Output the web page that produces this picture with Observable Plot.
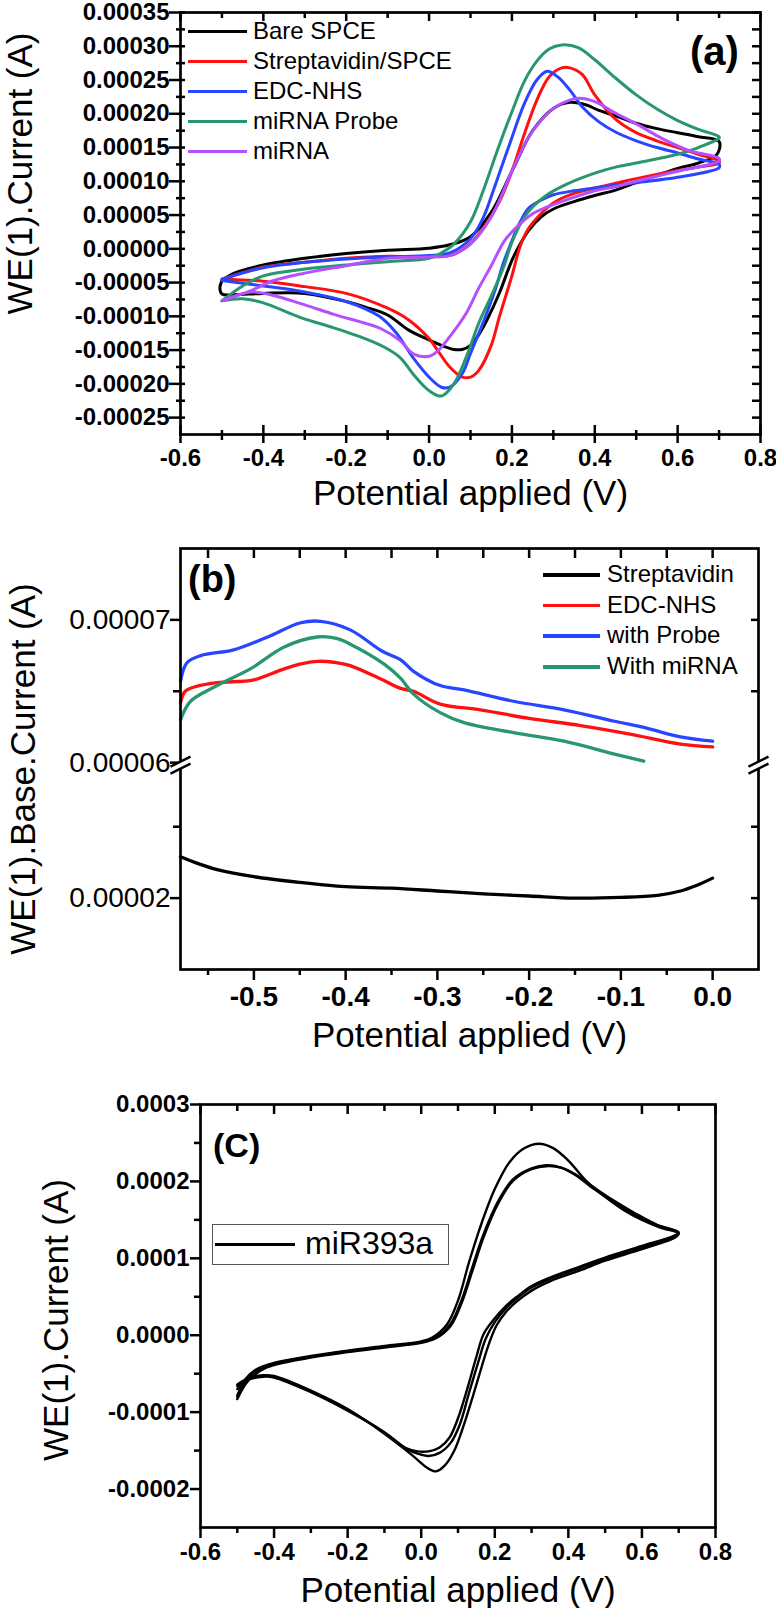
<!DOCTYPE html>
<html><head><meta charset="utf-8">
<script src="https://cdn.jsdelivr.net/npm/d3@7"></script>
<script src="https://cdn.jsdelivr.net/npm/@observablehq/plot@0.6"></script>
<style>
body{margin:0;background:#fff;font-family:"Liberation Sans",Arial,sans-serif;}
#wrap{position:relative;width:776px;height:1608px;overflow:hidden;background:#fff;}
.panel{position:absolute;left:0;}
.ov{position:absolute;color:#000;font-family:"Liberation Sans",Arial,sans-serif;white-space:nowrap;}
</style></head><body><div id="wrap"></div>
<script>
// ---------------- Panel (a) data: [potential V, current A] ----------------
const aSeries = ["Bare SPCE","Streptavidin/SPCE","EDC-NHS","miRNA Probe","miRNA"];
const aColors = ["#000000","#ff1010","#2846ff","#28966e","#b450ff"];
const aBare = [[-0.5,-4.7e-5],[-0.47,-3.6e-5],[-0.4,-2.4e-5],[-0.3,-1.4e-5],[-0.2,-0.7e-5],[-0.1,-0.2e-5],[0,0.1e-5],[0.05,0.6e-5],[0.1,1.8e-5],[0.15,5.4e-5],[0.2,11.5e-5],[0.25,17.5e-5],[0.3,20.8e-5],[0.34,21.7e-5],[0.38,21.3e-5],[0.41,20.5e-5],[0.45,19.7e-5],[0.5,18.6e-5],[0.55,17.8e-5],[0.6,17.2e-5],[0.65,16.6e-5],[0.7,15.9e-5],
 [0.695,14.0e-5],[0.65,12.7e-5],[0.6,11.9e-5],[0.5,9.8e-5],[0.45,8.7e-5],[0.4,7.9e-5],[0.35,7.0e-5],[0.3,5.9e-5],[0.27,4.7e-5],[0.24,2.7e-5],[0.22,0.7e-5],[0.2,-1.7e-5],[0.17,-6.5e-5],[0.14,-10.5e-5],[0.12,-12.7e-5],[0.1,-14.3e-5],[0.08,-14.9e-5],[0.06,-14.9e-5],[0.03,-14.3e-5],[0,-13.5e-5],[-0.05,-12.0e-5],[-0.1,-9.8e-5],[-0.15,-8.7e-5],[-0.2,-7.8e-5],[-0.3,-6.6e-5],[-0.4,-6.6e-5],[-0.47,-6.8e-5],[-0.5,-6.7e-5],[-0.505,-5.8e-5],[-0.5,-4.7e-5]];
const aStrep = [[-0.5,-4.5e-5],[-0.4,-2.7e-5],[-0.3,-2.0e-5],[-0.2,-1.4e-5],[-0.1,-1.1e-5],[0,-1.2e-5],[0.06,-0.8e-5],[0.1,0.8e-5],[0.13,3.0e-5],[0.17,7.0e-5],[0.2,11.5e-5],[0.23,17.0e-5],[0.26,22.0e-5],[0.29,25.5e-5],[0.32,26.8e-5],[0.34,26.8e-5],[0.37,25.8e-5],[0.4,22.8e-5],[0.45,19.2e-5],[0.5,17.2e-5],[0.55,16.0e-5],[0.6,15.0e-5],[0.65,14.0e-5],[0.7,13.0e-5],
 [0.7,12.7e-5],[0.65,12.1e-5],[0.6,11.6e-5],[0.5,10.4e-5],[0.45,9.7e-5],[0.4,9.0e-5],[0.35,8.2e-5],[0.3,6.8e-5],[0.27,5.2e-5],[0.24,3.0e-5],[0.22,0.4e-5],[0.2,-4.0e-5],[0.17,-10.0e-5],[0.15,-14.3e-5],[0.12,-18.0e-5],[0.1,-19.0e-5],[0.08,-19.0e-5],[0.05,-17.5e-5],[0.02,-15.0e-5],[0,-13.3e-5],[-0.05,-10.5e-5],[-0.1,-8.8e-5],[-0.2,-6.6e-5],[-0.3,-5.6e-5],[-0.4,-4.8e-5],[-0.5,-4.5e-5]];
const aEdc = [[-0.5,-4.5e-5],[-0.4,-2.8e-5],[-0.3,-2.0e-5],[-0.2,-1.5e-5],[-0.1,-1.2e-5],[0,-1.0e-5],[0.05,-0.6e-5],[0.1,1.5e-5],[0.13,4.5e-5],[0.16,9.5e-5],[0.2,16.5e-5],[0.23,21.5e-5],[0.26,25.0e-5],[0.285,26.3e-5],[0.31,25.5e-5],[0.34,23.5e-5],[0.37,21.0e-5],[0.41,18.8e-5],[0.45,17.3e-5],[0.5,16.0e-5],[0.55,15.0e-5],[0.6,14.2e-5],[0.65,13.3e-5],[0.7,12.5e-5],
 [0.7,12.0e-5],[0.6,10.6e-5],[0.5,9.8e-5],[0.45,9.4e-5],[0.35,8.6e-5],[0.3,8.0e-5],[0.27,7.2e-5],[0.24,6.0e-5],[0.22,4.0e-5],[0.2,1.2e-5],[0.18,-2.0e-5],[0.16,-6.0e-5],[0.13,-11.0e-5],[0.1,-15.5e-5],[0.08,-18.5e-5],[0.05,-20.5e-5],[0.03,-20.5e-5],[0,-19.0e-5],[-0.04,-16.0e-5],[-0.08,-12.4e-5],[-0.12,-10.0e-5],[-0.2,-7.8e-5],[-0.3,-6.4e-5],[-0.4,-5.5e-5],[-0.5,-4.7e-5]];
const aProbe = [[-0.5,-7.7e-5],[-0.45,-5.5e-5],[-0.4,-4.0e-5],[-0.3,-3.0e-5],[-0.2,-2.4e-5],[-0.1,-1.9e-5],[0,-1.4e-5],[0.03,-0.6e-5],[0.06,0.7e-5],[0.1,4.0e-5],[0.13,8.5e-5],[0.165,14.6e-5],[0.2,20.3e-5],[0.23,24.8e-5],[0.26,27.8e-5],[0.29,29.6e-5],[0.32,30.2e-5],[0.36,29.8e-5],[0.4,28.0e-5],[0.45,25.3e-5],[0.5,22.8e-5],[0.55,20.7e-5],[0.6,19.0e-5],[0.65,17.7e-5],[0.7,16.6e-5],
 [0.7,16.4e-5],[0.65,15.0e-5],[0.6,14.0e-5],[0.5,12.7e-5],[0.45,12.1e-5],[0.4,11.2e-5],[0.33,9.5e-5],[0.28,7.8e-5],[0.25,6.2e-5],[0.23,4.7e-5],[0.2,1.0e-5],[0.18,-2.7e-5],[0.15,-7.0e-5],[0.12,-11.0e-5],[0.09,-16.0e-5],[0.06,-20.0e-5],[0.03,-21.8e-5],[0,-21.0e-5],[-0.035,-18.8e-5],[-0.07,-16.1e-5],[-0.11,-14.5e-5],[-0.15,-13.4e-5],[-0.23,-11.7e-5],[-0.31,-10.2e-5],[-0.4,-8.0e-5],[-0.45,-7.4e-5],[-0.5,-7.7e-5]];
const aMirna = [[-0.5,-7.7e-5],[-0.43,-6.2e-5],[-0.38,-4.8e-5],[-0.3,-3.6e-5],[-0.2,-2.5e-5],[-0.1,-1.4e-5],[0,-1.2e-5],[0.05,-1.0e-5],[0.1,0.7e-5],[0.15,4.7e-5],[0.2,11.5e-5],[0.24,16.5e-5],[0.27,19.0e-5],[0.3,20.8e-5],[0.33,21.8e-5],[0.36,22.3e-5],[0.4,21.8e-5],[0.45,20.1e-5],[0.5,18.5e-5],[0.57,16.1e-5],[0.63,14.5e-5],[0.7,13.4e-5],
 [0.7,13.0e-5],[0.6,11.5e-5],[0.5,10.0e-5],[0.45,9.2e-5],[0.4,8.6e-5],[0.33,7.2e-5],[0.25,5.2e-5],[0.2,2.5e-5],[0.18,1.0e-5],[0.15,-2.5e-5],[0.12,-5.8e-5],[0.09,-9.5e-5],[0.05,-13.0e-5],[0.02,-15.2e-5],[0,-15.9e-5],[-0.037,-15.6e-5],[-0.07,-13.6e-5],[-0.117,-11.8e-5],[-0.23,-9.7e-5],[-0.3,-8.3e-5],[-0.39,-6.7e-5],[-0.43,-6.4e-5],[-0.5,-7.7e-5]];
const aXMajor = [-0.6,-0.4,-0.2,0.0,0.2,0.4,0.6,0.8];
const aXMinor = [-0.5,-0.3,-0.1,0.1,0.3,0.5,0.7];
const aYMajor = [-0.00025,-0.0002,-0.00015,-0.0001,-0.00005,0,0.00005,0.0001,0.00015,0.0002,0.00025,0.0003,0.00035];
const aYMinor = [-0.000225,-0.000175,-0.000125,-0.000075,-0.000025,0.000025,0.000075,0.000125,0.000175,0.000225,0.000275,0.000325];

// ---------------- Panel (b) data ----------------
const bSeries = ["Streptavidin","EDC-NHS","with Probe","With miRNA"];
const bColors = ["#000000","#ff1010","#2846ff","#28966e"];
const bStrept = [[-0.58,2.29e-5],[-0.56,2.24e-5],[-0.54,2.20e-5],[-0.5,2.15e-5],[-0.45,2.11e-5],[-0.4,2.08e-5],[-0.35,2.07e-5],[-0.3,2.05e-5],[-0.25,2.03e-5],[-0.2,2.015e-5],[-0.15,2.0e-5],[-0.1,2.005e-5],[-0.06,2.02e-5],[-0.035,2.05e-5],[-0.017,2.09e-5],[0,2.14e-5]];
const bEdc = [[-0.58,6.42e-5],[-0.575,6.50e-5],[-0.565,6.53e-5],[-0.54,6.56e-5],[-0.5,6.58e-5],[-0.47,6.65e-5],[-0.45,6.69e-5],[-0.43,6.71e-5],[-0.41,6.70e-5],[-0.395,6.68e-5],[-0.36,6.58e-5],[-0.34,6.52e-5],[-0.326,6.50e-5],[-0.297,6.41e-5],[-0.253,6.37e-5],[-0.2,6.31e-5],[-0.144,6.26e-5],[-0.09,6.20e-5],[-0.035,6.13e-5],[0,6.11e-5]];
const bProbe = [[-0.58,6.57e-5],[-0.573,6.70e-5],[-0.558,6.75e-5],[-0.522,6.79e-5],[-0.485,6.88e-5],[-0.449,6.98e-5],[-0.427,6.99e-5],[-0.395,6.93e-5],[-0.36,6.78e-5],[-0.34,6.72e-5],[-0.326,6.64e-5],[-0.297,6.54e-5],[-0.271,6.51e-5],[-0.217,6.43e-5],[-0.162,6.37e-5],[-0.107,6.29e-5],[-0.071,6.24e-5],[-0.035,6.18e-5],[0,6.15e-5]];
const bMirna = [[-0.58,6.30e-5],[-0.569,6.43e-5],[-0.54,6.54e-5],[-0.503,6.66e-5],[-0.467,6.81e-5],[-0.431,6.88e-5],[-0.41,6.87e-5],[-0.395,6.83e-5],[-0.358,6.69e-5],[-0.34,6.59e-5],[-0.326,6.48e-5],[-0.297,6.35e-5],[-0.271,6.28e-5],[-0.217,6.21e-5],[-0.162,6.15e-5],[-0.107,6.06e-5],[-0.075,6.01e-5]];
const bXMajor = [-0.5,-0.4,-0.3,-0.2,-0.1,0.0];
const bXMinor = [-0.55,-0.45,-0.35,-0.25,-0.15,-0.05];
const bYLabels = [0.00002,0.00006,0.00007];
const bYMinor = [0.000025,0.000065];
const bBreak = [0.00003,0.00006];   // axis is broken between these two currents

// ---------------- Panel (c) data ----------------
const cName = "miR393a";
const cCycle1 = [[-0.5,-8.0e-5],[-0.48,-5.8e-5],[-0.45,-4.5e-5],[-0.4,-3.6e-5],[-0.3,-2.7e-5],[-0.2,-2.0e-5],[-0.1,-1.4e-5],[0,-0.8e-5],[0.03,-0.3e-5],[0.07,1.4e-5],[0.1,4.5e-5],[0.13,9.5e-5],[0.16,14.0e-5],[0.2,19.0e-5],[0.24,22.5e-5],[0.28,24.3e-5],[0.32,24.9e-5],[0.36,24.3e-5],[0.4,22.7e-5],[0.45,20.0e-5],[0.5,18.0e-5],[0.55,16.3e-5],[0.6,15.0e-5],[0.65,14.0e-5],[0.7,13.2e-5],
 [0.69,12.7e-5],[0.6,11.2e-5],[0.5,9.7e-5],[0.43,8.4e-5],[0.35,7.0e-5],[0.3,5.8e-5],[0.26,4.4e-5],[0.23,3.0e-5],[0.205,1.3e-5],[0.185,-1.0e-5],[0.165,-4.0e-5],[0.14,-8.0e-5],[0.115,-11.8e-5],[0.09,-15.0e-5],[0.065,-16.9e-5],[0.04,-17.7e-5],[0.015,-17.2e-5],[-0.01,-16.2e-5],[-0.04,-15.0e-5],[-0.1,-12.8e-5],[-0.2,-9.6e-5],[-0.3,-7.2e-5],[-0.4,-5.3e-5],[-0.43,-5.2e-5],[-0.47,-5.6e-5],[-0.5,-6.4e-5]];
const cCycle2 = [[-0.5,-7.8e-5],[-0.47,-5.5e-5],[-0.42,-4.0e-5],[-0.3,-2.8e-5],[-0.2,-2.1e-5],[-0.1,-1.5e-5],[0,-0.9e-5],[0.04,-0.3e-5],[0.08,1.5e-5],[0.11,4.6e-5],[0.14,9.0e-5],[0.17,13.2e-5],[0.21,17.5e-5],[0.25,20.3e-5],[0.3,21.7e-5],[0.34,22.1e-5],[0.38,21.8e-5],[0.42,20.8e-5],[0.47,19.0e-5],[0.52,17.4e-5],[0.58,15.7e-5],[0.64,14.3e-5],[0.7,13.3e-5],
 [0.69,12.9e-5],[0.6,11.4e-5],[0.5,9.9e-5],[0.43,8.7e-5],[0.35,7.3e-5],[0.3,6.2e-5],[0.26,4.8e-5],[0.23,3.5e-5],[0.2,1.7e-5],[0.175,-0.5e-5],[0.155,-3.5e-5],[0.13,-7.5e-5],[0.105,-11.6e-5],[0.08,-14.0e-5],[0.05,-15.3e-5],[0.02,-15.7e-5],[-0.01,-15.4e-5],[-0.04,-14.8e-5],[-0.1,-12.7e-5],[-0.2,-9.7e-5],[-0.3,-7.3e-5],[-0.4,-5.4e-5],[-0.43,-5.3e-5],[-0.47,-5.7e-5],[-0.5,-6.6e-5]];
const cCycle3 = [[-0.5,-8.3e-5],[-0.47,-5.9e-5],[-0.42,-4.2e-5],[-0.3,-2.9e-5],[-0.2,-2.2e-5],[-0.1,-1.6e-5],[0,-1.0e-5],[0.04,-0.4e-5],[0.08,1.2e-5],[0.11,4.2e-5],[0.14,8.5e-5],[0.17,12.8e-5],[0.21,17.2e-5],[0.25,20.1e-5],[0.3,21.6e-5],[0.345,22.0e-5],[0.38,21.8e-5],[0.42,20.9e-5],[0.47,19.2e-5],[0.52,17.6e-5],[0.58,15.9e-5],[0.64,14.4e-5],[0.7,13.4e-5],
 [0.69,13.0e-5],[0.6,11.6e-5],[0.5,10.1e-5],[0.43,8.9e-5],[0.35,7.5e-5],[0.3,6.4e-5],[0.26,5.0e-5],[0.23,3.8e-5],[0.2,2.2e-5],[0.17,0.2e-5],[0.15,-2.8e-5],[0.125,-7.0e-5],[0.1,-10.8e-5],[0.077,-13.3e-5],[0.05,-14.6e-5],[0.02,-15.1e-5],[-0.01,-15.1e-5],[-0.04,-14.7e-5],[-0.1,-12.6e-5],[-0.2,-9.8e-5],[-0.3,-7.4e-5],[-0.4,-5.5e-5],[-0.43,-5.4e-5],[-0.47,-5.8e-5],[-0.5,-7.0e-5]];
const cXMajor = [-0.6,-0.4,-0.2,0.0,0.2,0.4,0.6,0.8];
const cXMinor = [-0.5,-0.3,-0.1,0.1,0.3,0.5,0.7];
const cYMajor = [-0.0002,-0.0001,0,0.0001,0.0002,0.0003];
const cYMinor = [-0.00015,-0.00005,0.00005,0.00015,0.00025];

// ---------------- helpers ----------------
const FONT = "'Liberation Sans', Arial, Helvetica, sans-serif";
const rows = (pairs, name) => pairs.map(([E, I]) => ({E, I, name}));
const fixed = n => v => (Math.abs(v) < 1e-12 ? 0 : v).toFixed(n);
function axY(ticks, {anchor="left", out=0, inn=0, fmt=null, size=24, weight="normal", pad=5, sw=2.5} = {}) {
  return Plot.axisY({ticks, anchor, label: null, tickSize: out + inn, dx: anchor === "left" ? inn : -inn,
    tickPadding: pad, tickFormat: fmt ? fmt : () => "", fontSize: size, fontWeight: weight, strokeWidth: sw, fill: "black", stroke: "black"});
}
function axX(ticks, {anchor="bottom", out=0, inn=0, fmt=null, size=24, weight="normal", pad=5, sw=2.5} = {}) {
  return Plot.axisX({ticks, anchor, label: null, tickSize: out + inn, dy: anchor === "bottom" ? -inn : inn,
    tickPadding: pad, tickFormat: fmt ? fmt : () => "", fontSize: size, fontWeight: weight, strokeWidth: sw, fill: "black", stroke: "black"});
}
const title = (t, anchor, dx, dy, rotate=0, size=35) =>
  Plot.text([t], {text: d => d, frameAnchor: anchor, textAnchor: "middle", lineAnchor: "middle", dx, dy, rotate, fontSize: size, fill: "black", fontFamily: FONT});
const style = {fontFamily: FONT, fontSize: "24px", color: "black", background: "white", overflow: "visible"};

const wrap = document.getElementById("wrap");
function place(svg, top) { const d = document.createElement("div"); d.className = "panel"; d.style.top = top + "px"; d.appendChild(svg); wrap.appendChild(d); }
function ov(html, css) { const d = document.createElement("div"); d.className = "ov"; Object.assign(d.style, css); d.innerHTML = html; wrap.appendChild(d); return d; }
function legend(names, colors, {left, top, step, lineW, gap, size, lw}) {
  names.forEach((n, i) => {
    const y = top + i * step;
    ov("", {left: left + "px", top: (y - lw / 2) + "px", width: lineW + "px", height: lw + "px", background: colors[i]});
    ov(n, {left: (left + lineW + gap) + "px", top: (y - size * 0.62) + "px", fontSize: size + "px", lineHeight: (size * 1.2) + "px"});
  });
}

// ---------------- Panel (a) ----------------
const aData = [aBare, aStrep, aEdc, aProbe, aMirna].flatMap((p, k) => rows(p, aSeries[k]));
const plotA = Plot.plot({
  width: 776, height: 520, marginLeft: 180, marginRight: 16, marginTop: 12, marginBottom: 86, style,
  x: {domain: [-0.6, 0.8]}, y: {domain: [-0.000275, 0.00035]},
  color: {domain: aSeries, range: aColors},
  marks: [
    Plot.line(aData, {x: "E", y: "I", z: "name", stroke: "name", strokeWidth: 3, curve: "catmull-rom"}),
    Plot.frame({stroke: "black", strokeWidth: 2.7}),
    axY(aYMajor, {out: 11, inn: 5, fmt: fixed(5), weight: "bold", size: 24, pad: 0}),
    axY(aYMinor, {out: 4, inn: 5}),
    axY([...aYMajor, ...aYMinor], {anchor: "right", inn: 9}),
    axX(aXMajor, {out: 9, inn: 9, fmt: fixed(1), weight: "bold", size: 24, pad: 5}),
    axX(aXMinor, {out: 6, inn: 4}),
    axX(aXMajor, {anchor: "top", inn: 8}),
    axX(aXMinor, {anchor: "top", inn: 5}),
    title("WE(1).Current (A)", "left", -160, -50, -90),
    title("Potential applied (V)", "bottom", 0, 59)
  ]
});
place(plotA, 0);
legend(aSeries, aColors, {left: 188, top: 31.7, step: 30, lineW: 59, gap: 6, size: 24, lw: 3});
ov("(a)", {left: "690px", top: "27px", fontSize: "40px", fontWeight: "bold", lineHeight: "48px"});

// ---------------- Panel (b) ----------------
const shift = bBreak[1] - bBreak[0] + 0.00000051;
const brk = v => (v >= (bBreak[0] + bBreak[1]) / 2 ? v - shift : v);
const bData = [bStrept, bEdc, bProbe, bMirna].flatMap((p, k) => rows(p, bSeries[k]));
const breakFill = {draw(ctx) { ctx.moveTo(-10, 4); ctx.lineTo(10, -6); ctx.lineTo(10, 1); ctx.lineTo(-10, 11); ctx.closePath(); }};
const breakLines = {draw(ctx) { ctx.moveTo(-10, 4); ctx.lineTo(10, -6); ctx.moveTo(-10, 11); ctx.lineTo(10, 1); }};
const bxDom = [-0.58, 0.05];
const breakPts = [{E: bxDom[0], I: brk(bBreak[1])}, {E: bxDom[1], I: brk(bBreak[1])}];
const plotB = Plot.plot({
  width: 776, height: 560, marginLeft: 180, marginRight: 18, marginTop: 28, marginBottom: 111, style,
  x: {domain: bxDom}, y: {domain: [0.000015, brk(0.000075)]},
  color: {domain: bSeries, range: bColors},
  marks: [
    Plot.line(bData, {x: "E", y: d => brk(d.I), z: "name", stroke: "name", strokeWidth: 3.3, curve: "catmull-rom"}),
    Plot.frame({stroke: "black", strokeWidth: 2.7}),
    axY(bYLabels.map(brk), {out: 10, fmt: (d, i) => bYLabels[i].toFixed(5), size: 28, pad: 0}),
    axY(bYMinor.map(brk), {out: 7}),
    axY([...bYLabels.filter(v => v !== bBreak[1]), ...bYMinor].map(brk), {anchor: "right", inn: 8}),
    axX(bXMajor, {out: 11, fmt: fixed(1), weight: "bold", size: 28, pad: 6}),
    axX(bXMinor, {out: 6}),
    axX([...bXMajor, ...bXMinor], {anchor: "top", inn: 9}),
    Plot.dot(breakPts, {x: "E", y: "I", symbol: breakFill, fill: "white", stroke: "white", strokeWidth: 0.5, r: 5}),
    Plot.dot(breakPts, {x: "E", y: "I", symbol: breakLines, fill: "none", stroke: "black", strokeWidth: 2.4, r: 5}),
    title("WE(1).Base.Current (A)", "left", -157, 10, -90),
    title("Potential applied (V)", "bottom", 0, 66)
  ]
});
place(plotB, 520);
legend(bSeries, bColors, {left: 543, top: 575, step: 30.6, lineW: 57, gap: 7, size: 24, lw: 3.5});
ov("(b)", {left: "188px", top: "556px", fontSize: "38px", fontWeight: "bold", lineHeight: "46px"});

// ---------------- Panel (c) ----------------
const cData = [cCycle1, cCycle2, cCycle3].flatMap((p, k) => rows(p, "cycle" + k));
const plotC = Plot.plot({
  width: 776, height: 528, marginLeft: 200, marginRight: 61, marginTop: 24, marginBottom: 81, style,
  x: {domain: [-0.6, 0.8]}, y: {domain: [-0.00025, 0.0003]},
  marks: [
    Plot.line(cData, {x: "E", y: "I", z: "name", stroke: "black", strokeWidth: 2.4, curve: "catmull-rom"}),
    Plot.frame({stroke: "black", strokeWidth: 2.7}),
    axY(cYMajor, {out: 10, fmt: fixed(4), weight: "bold", size: 24, pad: 1}),
    axY(cYMinor, {out: 6}),
    axX(cXMajor, {out: 11, fmt: fixed(1), weight: "bold", size: 24, pad: 4}),
    axX(cXMinor, {out: 6}),
    axX(cXMajor, {anchor: "top", inn: 9}),
    axX(cXMinor, {anchor: "top", inn: 6}),
    title("WE(1).Current (A)", "left", -144, 4, -90),
    title("Potential applied (V)", "bottom", 0, 63)
  ]
});
place(plotC, 1080);
ov("", {left: "212px", top: "1224px", width: "235px", height: "39px", border: "1px solid #555"});
legend([cName], ["#000"], {left: 215, top: 1244, step: 0, lineW: 80, gap: 10, size: 32, lw: 3});
ov("(C)", {left: "213px", top: "1125px", fontSize: "34px", fontWeight: "bold", lineHeight: "40px"});
</script></body></html>
